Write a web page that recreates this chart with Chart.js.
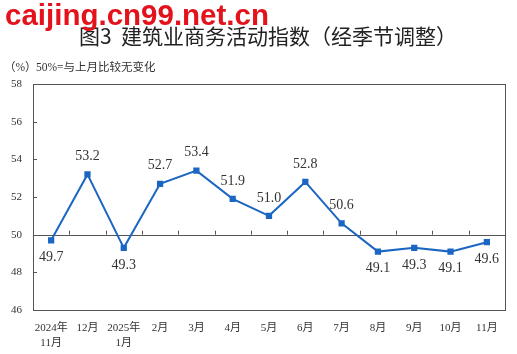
<!DOCTYPE html>
<html>
<head>
<meta charset="utf-8">
<script src="https://cdn.jsdelivr.net/npm/chart.js@4/dist/chart.umd.min.js"></script>
<style>
  html, body { margin: 0; padding: 0; background: #fff; }
  #wrap { position: relative; width: 517px; height: 354px; }
</style>
</head>
<body>
<div id="wrap"><canvas id="chart" width="517" height="354"></canvas></div>
<script>
// data
const months = [["2024年", "11月"], "12月", ["2025年", "1月"], "2月", "3月", "4月", "5月", "6月", "7月", "8月", "9月", "10月", "11月"];
const index = [49.7, 53.2, 49.3, 52.7, 53.4, 51.9, 51.0, 52.8, 50.6, 49.1, 49.3, 49.1, 49.6];
const labelAbove = [false, true, false, true, true, true, true, true, true, false, false, false, false];
const yTicks = [46, 48, 50, 52, 54, 56, 58];

const serif = '"Liberation Serif", "Noto Sans CJK SC", serif';
const blue = "#1a66c2";

// box, 50 line, inward ticks, value labels, headings
const decor = {
  id: "decor",
  beforeDatasetsDraw(chart) {
    const { ctx, chartArea: a, scales } = chart;
    const y50 = scales.y.getPixelForValue(50);
    ctx.save();
    ctx.strokeStyle = "#555";
    ctx.lineWidth = 1;
    ctx.beginPath();
    ctx.moveTo(a.left, Math.round(y50) + 0.5);
    ctx.lineTo(a.right, Math.round(y50) + 0.5);
    // small ticks on the 50 line at category edges
    const step = (a.right - a.left) / months.length;
    for (let i = 1; i < months.length; i++) {
      const x = Math.round(a.left + step * i) + 0.5;
      ctx.moveTo(x, y50);
      ctx.lineTo(x, y50 - 4);
    }
    // inward ticks on the left axis
    yTicks.forEach((v) => {
      const y = Math.round(scales.y.getPixelForValue(v)) + 0.5;
      ctx.moveTo(a.left, y);
      ctx.lineTo(a.left + 4, y);
    });
    ctx.stroke();
    ctx.strokeRect(Math.round(a.left) + 0.5, Math.round(a.top) + 0.5, Math.round(a.right - a.left), Math.round(a.bottom - a.top));
    ctx.restore();
  },
  afterDatasetsDraw(chart) {
    const { ctx } = chart;
    const meta = chart.getDatasetMeta(0);
    ctx.save();
    ctx.fillStyle = "#333";
    ctx.font = "14px " + serif;
    ctx.textAlign = "center";
    ctx.textBaseline = "middle";
    meta.data.forEach((pt, i) => {
      const dy = labelAbove[i] ? -18 : 17;
      ctx.fillText(index[i].toFixed(1), pt.x, pt.y + dy);
    });
    ctx.restore();
  },
  afterDraw(chart) {
    const { ctx } = chart;
    ctx.save();
    ctx.fillStyle = "#222";
    ctx.textBaseline = "middle";
    ctx.textAlign = "center";
    ctx.font = '21px "Noto Sans CJK SC", sans-serif';
    ctx.fillText("图3  建筑业商务活动指数（经季节调整）", 268, 36);
    ctx.textAlign = "left";
    ctx.fillStyle = "#333";
    ctx.font = "11.5px " + serif;
    ctx.fillText("（%）", 4, 68);
    ctx.fillText("50%=与上月比较无变化", 36, 68);
    ctx.fillStyle = "#e3121b";
    ctx.font = 'bold 29.5px "Liberation Sans", Arial, sans-serif';
    ctx.textBaseline = "alphabetic";
    ctx.fillText("caijing.cn99.net.cn", 5, 25);
    ctx.restore();
  }
};

new Chart(document.getElementById("chart"), {
  type: "line",
  data: {
    labels: months,
    datasets: [{
      data: index,
      borderColor: blue,
      backgroundColor: blue,
      borderWidth: 2,
      pointStyle: "rect",
      pointRadius: 3,
      pointHoverRadius: 3,
      tension: 0,
      fill: false
    }]
  },
  options: {
    responsive: false,
    animation: false,
    layout: { padding: { top: 84, right: 12, left: 0, bottom: 0 } },
    plugins: { legend: { display: false }, tooltip: { enabled: false } },
    scales: {
      x: {
        offset: true,
        grid: { display: false },
        border: { display: false },
        ticks: { color: "#333", font: { size: 11, family: serif, lineHeight: 1.35 }, padding: 3, maxRotation: 0, autoSkip: false },
        afterFit(s) { s.height = 44; }
      },
      y: {
        min: 46,
        max: 58,
        grid: { display: false },
        border: { display: false },
        ticks: { stepSize: 2, color: "#333", font: { size: 11, family: serif }, padding: 3 },
        afterFit(s) { s.width = 33; }
      }
    }
  },
  plugins: [decor]
});
</script>
</body>
</html>
